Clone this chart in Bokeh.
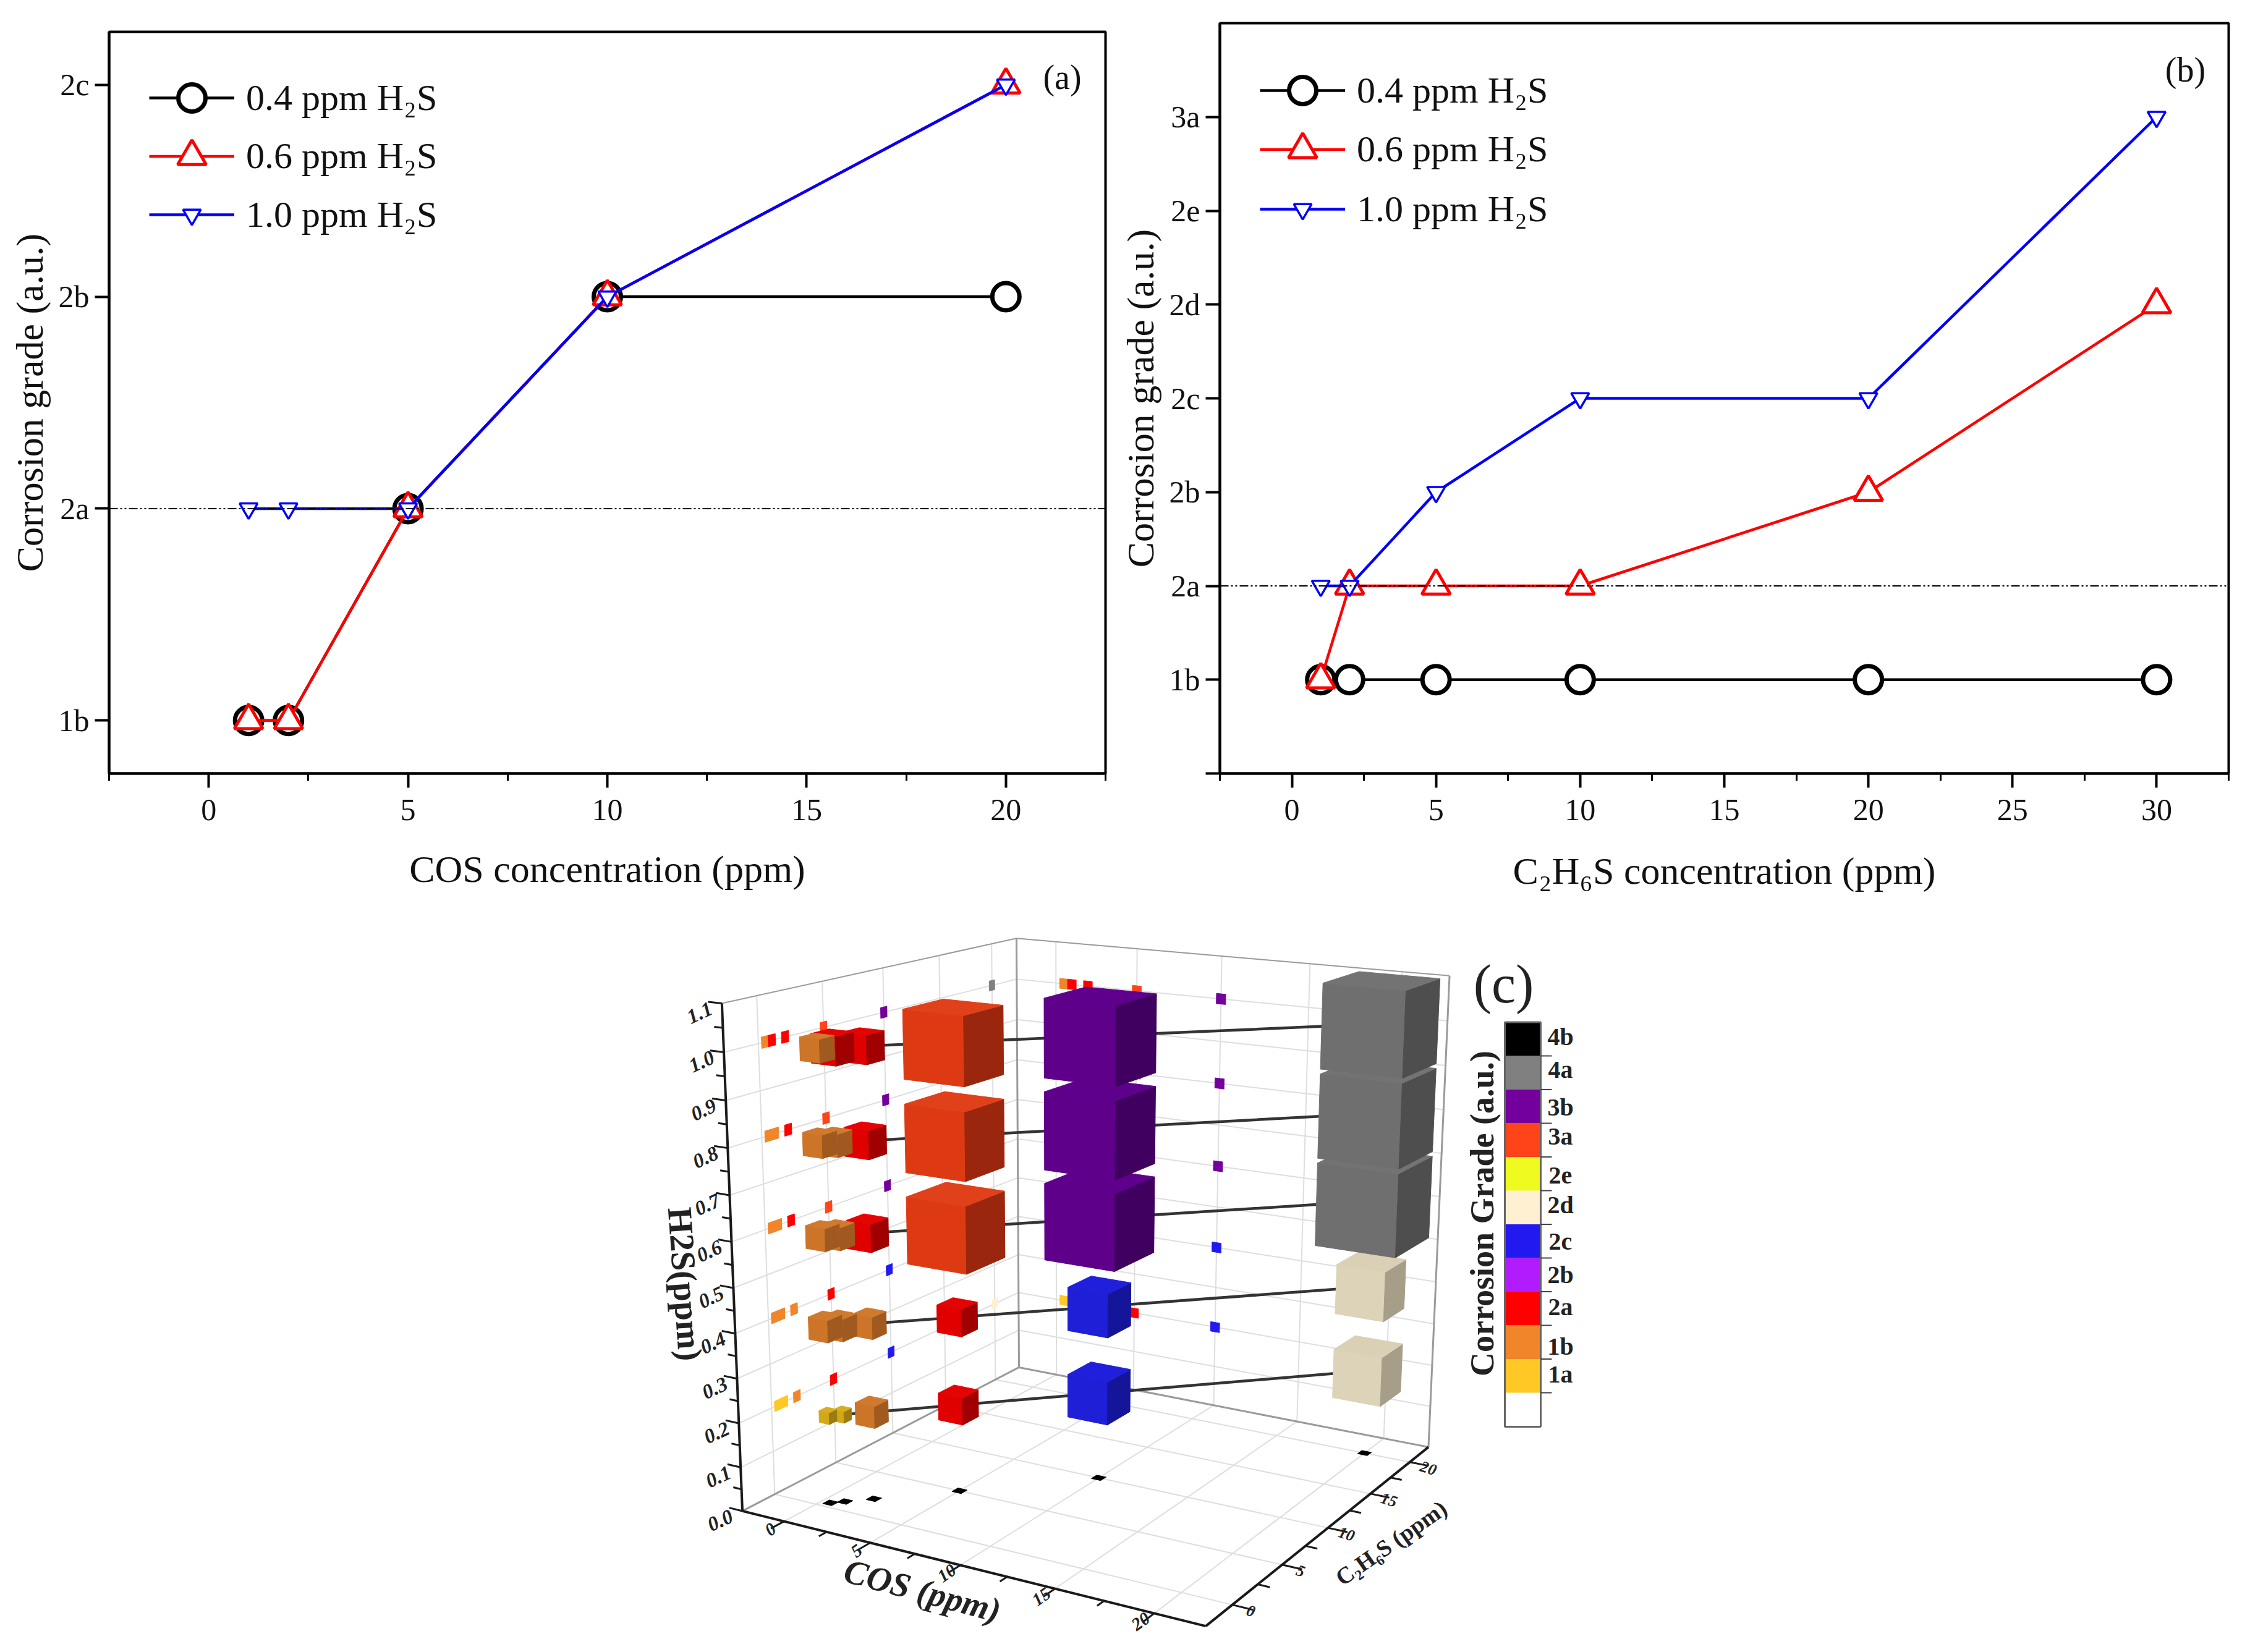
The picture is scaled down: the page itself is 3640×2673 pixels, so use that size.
import numpy as np
from bokeh.embed import file_html
from bokeh.resources import INLINE
from bokeh.plotting import figure
from bokeh.layouts import column, row
from bokeh.models import (ColumnDataSource, FixedTicker, Legend, LegendItem, Range1d, Span, Spacer, Label)
from bokeh.core.properties import value

SERIF = "Liberation Serif"

# ---------- panel (a) ----------
a_grades = ["1b", "2a", "2b", "2c"]
a_x = [1, 2, 5, 10, 20]
a_04 = ["1b", "1b", "2a", "2b", "2b"]
a_06 = ["1b", "1b", "2a", "2b", "2c"]
a_10 = ["2a", "2a", "2a", "2b", "2c"]

# ---------- panel (b) ----------
b_grades = ["1b", "2a", "2b", "2c", "2d", "2e", "3a"]
b_x = [1, 2, 5, 10, 20, 30]
b_04 = ["1b", "1b", "1b", "1b", "1b", "1b"]
b_06 = ["1b", "2a", "2a", "2a", "2b", "2d"]
b_10 = ["2a", "2a", "2b", "2c", "2c", "3a"]

series_names = ["0.4 ppm H₂S", "0.6 ppm H₂S", "1.0 ppm H₂S"]

# ---------- panel (c) ----------
conc = [0.5, 1, 2, 5, 10, 20]
h2s_levels = [0.2, 0.4, 0.6, 0.8, 1.0]
grades_02 = ["1a", "1a", "1b", "2a", "2c", "2d"]
grades_04 = ["1b", "1b", "1b", "2a", "2c", "2d"]
grades_06 = ["1b", "1b", "2a", "3a", "3b", "4a"]
grades_08 = ["1b", "1b", "2a", "3a", "3b", "4a"]
grades_10 = ["1b", "2a", "2a", "3a", "3b", "4a"]
cb_grades = ["1a", "1b", "2a", "2b", "2c", "2d", "2e", "3a", "3b", "4a", "4b"]
cb_colors = ["#FFC825", "#F0852A", "#FF0000", "#B31BFF", "#2219F0", "#FFF0D2",
             "#EEFA20", "#FF4419", "#73009C", "#808080", "#000000"]
cube_edge = {"1a": 0.024, "1b": 0.045, "2a": 0.056, "2c": 0.09, "2d": 0.105,
             "3a": 0.134, "3b": 0.155, "4a": 0.172}
cube_front = {"1a": "#D2A818", "1b": "#CC7428", "2a": "#E00000", "2c": "#1F1FD8",
              "2d": "#DDD3B8", "3a": "#DD3A14", "3b": "#5E0089", "4a": "#6F6F6F"}
cube_side = {"1a": "#9A7C10", "1b": "#A05A20", "2a": "#A00000", "2c": "#15159A",
             "2d": "#A79E8A", "3a": "#9A260D", "3b": "#40005F", "4a": "#4E4E4E"}
cube_top = {"1a": "#D8AE20", "1b": "#CF7A2E", "2a": "#E40404", "2c": "#2020DC",
            "2d": "#D9D0B6", "3a": "#E0401A", "3b": "#5F008C", "4a": "#737373"}
floor_lo, floor_hi = -2.5, 22.5
z_hi = 1.1


def base_fig(w, h, left, right, top, bottom, xr, yr, xticks, xminor, yticks, ylabels, xlabel, xstand):
    p = figure(width=w, height=h, x_range=Range1d(*xr), y_range=Range1d(*yr),
               output_backend="svg", toolbar_location=None,
               min_border_left=left, min_border_right=right, min_border_top=top, min_border_bottom=bottom)
    p.grid.visible = False
    p.outline_line_color = "black"
    p.outline_line_width = 4
    p.xaxis.ticker = FixedTicker(ticks=xticks, minor_ticks=xminor)
    p.yaxis.ticker = FixedTicker(ticks=yticks)
    p.yaxis.major_label_overrides = ylabels
    p.xaxis.axis_label = xlabel
    p.yaxis.axis_label = "Corrosion grade (a.u.)"
    for ax in (p.xaxis[0], p.yaxis[0]):
        ax.axis_line_width = 4
        ax.major_tick_line_width = 4
        ax.minor_tick_line_width = 3
        ax.major_tick_in = 0
        ax.major_tick_out = 23
        ax.minor_tick_in = 0
        ax.minor_tick_out = 12
        ax.major_label_text_font = SERIF
        ax.major_label_text_font_size = "50px"
        ax.major_label_text_color = "#111111"
        ax.axis_label_text_font = SERIF
        ax.axis_label_text_font_size = "62px"
        ax.axis_label_text_font_style = "normal"
        ax.axis_label_text_color = "#111111"
    p.xaxis.major_label_standoff = 19
    p.xaxis.axis_label_standoff = xstand
    p.yaxis.major_label_standoff = 9
    p.yaxis.axis_label_standoff = 10
    p.yaxis.major_label_orientation = "horizontal"
    return p


def add_series(p, x, labels, grades, lx, cys):
    idx = {g: i for i, g in enumerate(grades)}
    styles = [("black", 4.5, "circle", 44, 7), ("#FF0000", 4.5, "triangle", 46, 5), ("#0000FF", 4.5, "inverted_triangle", 29, 3.5)]
    for name, lab, st, cy in zip(series_names, labels, styles, cys):
        col, lw, mk, sz, mlw = st
        src = ColumnDataSource(dict(x=x, y=[idx[g] for g in lab]))
        l = p.line("x", "y", source=src, line_color=col, line_width=lw)
        m = p.scatter("x", "y", source=src, marker=mk, size=sz, line_color=col, line_width=mlw, fill_color="white")
        h = sz / 0.4
        leg = Legend(items=[LegendItem(label=value(name), renderers=[l, m])], location=(lx, cy - h / 2),
                     padding=0, margin=0, spacing=0, border_line_color=None, background_fill_alpha=0,
                     glyph_width=138, glyph_height=int(h), label_height=int(h), label_standoff=19,
                     label_text_font=SERIF, label_text_font_size="60px", label_text_color="#111111",
                     label_text_baseline="middle")
        p.add_layout(leg, "center")


pa = base_fig(1800, 1446, 176, 12, 37, 209, (-2.5, 22.5), (-0.25, 3.25),
              [0, 5, 10, 15, 20], [-2.5, 2.5, 7.5, 12.5, 17.5, 22.5],
              [0, 1, 2, 3], {i: g for i, g in enumerate(a_grades)}, "COS concentration (ppm)", 42)
pa.add_layout(Span(location=1, dimension="width", line_color="black", line_width=2, line_dash="14 4 3 4 3 4"))
add_series(pa, a_x, [a_04, a_06, a_10], a_grades, 65, [1093, 999, 904])
pa.add_layout(Label(x=1542, y=1127, x_units="screen", y_units="screen", text="(a)", text_font=SERIF,
                    text_font_size="56px", text_align="center", text_baseline="middle", text_color="#111111"))

pb = base_fig(1835, 1460, 173, 30, 37, 209, (-2.5, 32.5), (-1, 7),
              [0, 5, 10, 15, 20, 25, 30], [-2.5, 2.5, 7.5, 12.5, 17.5, 22.5, 27.5, 32.5],
              [-1, 0, 1, 2, 3, 4, 5, 6], {**{i: g for i, g in enumerate(b_grades)}, -1: ""},
              "C₂H₆S concentration (ppm)", 45)
pb.add_layout(Span(location=1, dimension="width", line_color="black", line_width=2, line_dash="14 4 3 4 3 4"))
add_series(pb, b_x, [b_04, b_06, b_10], b_grades, 65, [1105, 1010, 913])
pb.add_layout(Label(x=1562, y=1139, x_units="screen", y_units="screen", text="(b)", text_font=SERIF,
                    text_font_size="56px", text_align="center", text_baseline="middle", text_color="#111111"))

# ---------- 3-D panel: a perspective camera fitted to the box corners of the reference ----------
box_world = np.array([[0, 0, 0], [1, 0, 0], [1, 1, 0], [0, 1, 0], [0, 0, 1], [0, 1, 1], [1, 1, 1]], float)
box_screen = np.array([[1201, 2445], [1949, 2631], [2311, 2340], [1648, 2212],
                       [1168, 1622], [1643, 1518], [2345, 1579]], float)
rows_dlt = []
for (u, v, w), (sx, sy) in zip(box_world, box_screen / 1000.0):
    rows_dlt.append([u, v, w, 1, 0, 0, 0, 0, -sx * u, -sx * v, -sx * w, -sx])
    rows_dlt.append([0, 0, 0, 0, u, v, w, 1, -sy * u, -sy * v, -sy * w, -sy])
cam = np.linalg.svd(np.array(rows_dlt))[2][-1].reshape(3, 4)


def nrm(x, y, z):
    span = floor_hi - floor_lo
    return (x - floor_lo) / span, (y - floor_lo) / span, z / z_hi


def proj_n(u, v, w):
    q = cam @ np.array([u, v, w, 1.0])
    return 1000 * q[0] / q[2], 1000 * q[1] / q[2]


def proj(x, y, z):
    return proj_n(*nrm(x, y, z))


pc = figure(width=1600, height=1205, x_range=Range1d(1000, 2600), y_range=Range1d(2665, 1460),
            output_backend="svg", toolbar_location=None, min_border=0)
pc.axis.visible = False
pc.grid.visible = False
pc.outline_line_color = None


def seg(points, color, width):
    xy = [proj(*pt) for pt in points]
    pc.line([q[0] for q in xy], [q[1] for q in xy], line_color=color, line_width=width)


GRID = "#DEDEDE"
ticks_xy = [0, 5, 10, 15, 20]
minor_xy = [2.5, 7.5, 12.5, 17.5]
z_major = [0.1 * i for i in range(12)]
z_minor = [0.05 + 0.1 * i for i in range(11)]
L, H = floor_lo, floor_hi
for t in ticks_xy:
    seg([(t, L, 0), (t, H, 0)], GRID, 2)
    seg([(L, t, 0), (H, t, 0)], GRID, 2)
    seg([(L, t, 0), (L, t, z_hi)], GRID, 2)
    seg([(t, H, 0), (t, H, z_hi)], GRID, 2)
for z in z_major[1:-1]:
    seg([(L, L, z), (L, H, z)], GRID, 2)
    seg([(L, H, z), (H, H, z)], GRID, 2)
EDGE = "#9A9A9A"
seg([(L, L, 0), (L, H, 0)], EDGE, 3)
seg([(L, H, 0), (H, H, 0)], EDGE, 3)
seg([(L, H, 0), (L, H, z_hi)], EDGE, 3)
seg([(L, L, z_hi), (L, H, z_hi)], EDGE, 2)
seg([(L, H, z_hi), (H, H, z_hi)], EDGE, 2)
seg([(H, H, 0), (H, H, z_hi)], EDGE, 3)

rows_grades = [grades_02, grades_04, grades_06, grades_08, grades_10]
grade_color = dict(zip(cb_grades, cb_colors))

# flat projections on the walls and the floor
d = 0.27
wxs, wys, wcs = [], [], []
for z, gr in zip(h2s_levels, rows_grades):
    for c, g in zip(conc, gr):
        dz = 0.012
        q = [proj(L, c - d, z - dz), proj(L, c + d, z - dz), proj(L, c + d, z + dz), proj(L, c - d, z + dz)]
        wxs.append([a[0] for a in q]); wys.append([a[1] for a in q]); wcs.append(grade_color[g])
        q = [proj(c - d, H, z - dz), proj(c + d, H, z - dz), proj(c + d, H, z + dz), proj(c - d, H, z + dz)]
        wxs.append([a[0] for a in q]); wys.append([a[1] for a in q]); wcs.append(grade_color[g])
for c in conc:
    q = [proj(c - d, c - d, 0), proj(c + d, c - d, 0), proj(c + d, c + d, 0), proj(c - d, c + d, 0)]
    wxs.append([a[0] for a in q]); wys.append([a[1] for a in q]); wcs.append("#000000")
pc.patches(wxs, wys, fill_color=wcs, line_color=wcs, line_width=1)

# axes
INK = "#1A1A1A"
seg([(L, L, 0), (L, L, z_hi)], INK, 4)
seg([(L, L, 0), (H, L, 0)], INK, 4)
seg([(H, L, 0), (H, H, 0)], INK, 4)
for t in ticks_xy + minor_xy:
    tl = 1.0 if t in ticks_xy else 0.6
    seg([(t, L, 0), (t, L - tl, 0)], INK, 3)
    seg([(H, t, 0), (H + tl, t, 0)], INK, 3)
for z in z_major + z_minor:
    tl = 0.8 if z in z_major else 0.5
    seg([(L, L, z), (L - tl, L, z)], INK, 3)


def texts(xs, ys, labels, size, angle, style="bold"):
    pc.text(xs, ys, text=labels, text_font=value(SERIF), text_font_size=value(size), text_font_style=style,
            angle=angle, angle_units="deg", text_align="center", text_baseline="middle", text_color="#222222")


q = [proj(L, L, z) for z in z_major]
texts([a[0] - 36 for a in q], [a[1] + 15 for a in q], ["%.1f" % z for z in z_major], "33px", 25, "bold italic")
q = [proj(t, L, 0) for t in ticks_xy]
texts([a[0] - 22 for a in q], [a[1] + 13 for a in q], [str(t) for t in ticks_xy], "29px", 35, "bold italic")
q = [proj(H, t, 0) for t in ticks_xy]
texts([a[0] + 30 for a in q], [a[1] + 10 for a in q], [str(t) for t in ticks_xy], "26px", -18, "bold italic")
texts([1492], [2573], ["COS (ppm)"], "56px", -15, "bold italic")
texts([2250], [2496], ["C₂H₆S (ppm)"], "38px", 35, "bold")
texts([1108], [2077], ["H2S(ppm)"], "56px", -86, "bold")

# cubes, lower levels first, larger concentrations first
for z, gr in zip(h2s_levels, rows_grades):
    q = [proj(c, c, z) for c in conc]
    pc.line([a[0] for a in q], [a[1] for a in q], line_color="#333333", line_width=4.5)
    fx, fy, fc = [], [], []
    for c, g in list(zip(conc, gr))[::-1]:
        h = cube_edge[g] / 2
        u, v, w = nrm(c, c, z)
        front = [(u - h, v - h, w - h), (u + h, v - h, w - h), (u + h, v - h, w + h), (u - h, v - h, w + h)]
        side = [(u + h, v - h, w - h), (u + h, v + h, w - h), (u + h, v + h, w + h), (u + h, v - h, w + h)]
        top = [(u - h, v - h, w + h), (u + h, v - h, w + h), (u + h, v + h, w + h), (u - h, v + h, w + h)]
        for face, colors in ((front, cube_front), (side, cube_side), (top, cube_top)):
            pts = [proj_n(*pt) for pt in face]
            fx.append([a[0] for a in pts]); fy.append([a[1] for a in pts]); fc.append(colors[g])
    pc.patches(fx, fy, fill_color=fc, line_color=fc, line_width=1)

# colour scale
cb_left, cb_right, cb_bottom_white, seg_h = 2434, 2492, 2308, 54.5
n = len(cb_grades)
cb_base = 2308 - 55
cb_y0 = [cb_base - i * seg_h for i in range(n)]
pc.quad(left=cb_left, right=cb_right, top=cb_base, bottom=cb_bottom_white, fill_color="white", line_color=None)
pc.quad(left=cb_left, right=cb_right, top=[y - seg_h for y in cb_y0], bottom=cb_y0, fill_color=cb_colors, line_color=None)
pc.quad(left=cb_left, right=cb_right, top=cb_base - n * seg_h, bottom=cb_bottom_white, fill_color=None, line_color="#666666", line_width=3)
pc.segment(x0=cb_right, x1=2510, y0=[cb_base - i * seg_h for i in range(n)], y1=[cb_base - i * seg_h for i in range(n)],
           line_color="#444444", line_width=2)
cb_dy = [-3, 7, -3, 0, 0, -4, 3, -6, 1, -5, -4]
texts([2524] * n, [y - seg_h / 2 + dy for y, dy in zip(cb_y0, cb_dy)], cb_grades, "40px", 0)
texts([2397], [1963], ["Corrosion Grade (a.u.)"], "54px", 90)
texts([2432], [1592], ["(c)"], "88px", 0, "normal")

left_col = column(Spacer(width=1800, height=14), pa, spacing=0)
right_col = column(pb, spacing=0)
page = column(row(left_col, right_col, spacing=0), row(Spacer(width=1000, height=1205), pc, spacing=0), spacing=0)
open("out.html", "w").write(file_html(page, INLINE))
